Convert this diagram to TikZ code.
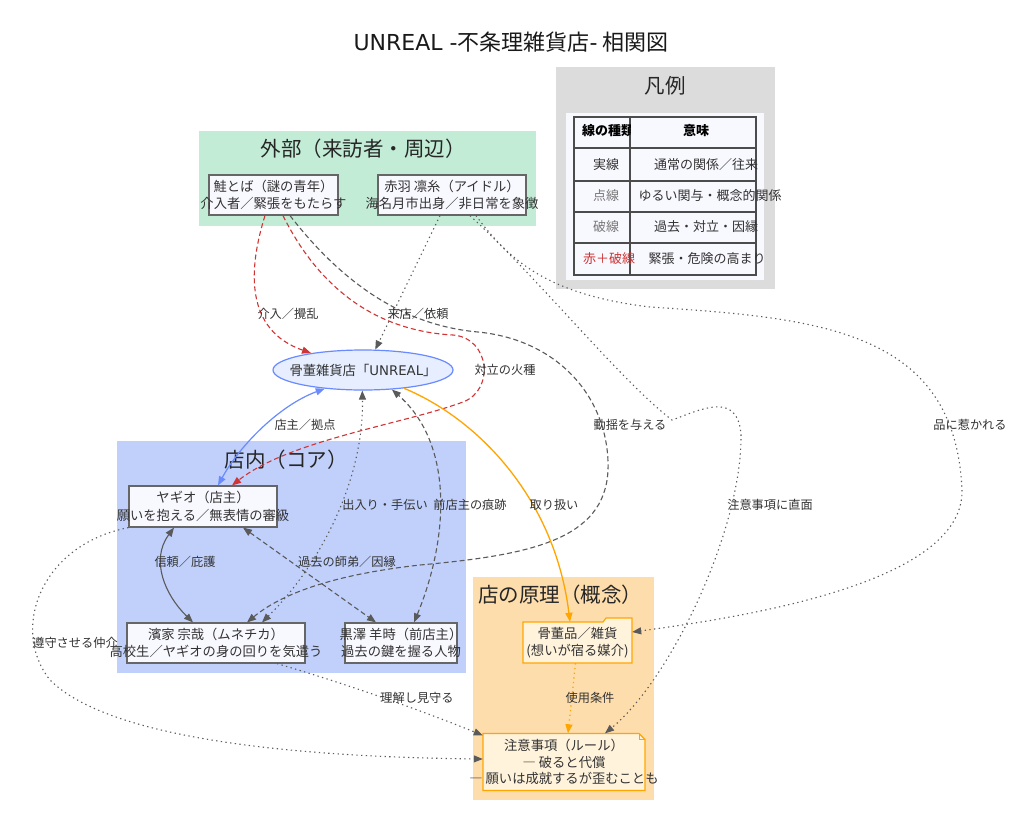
\documentclass[tikz,border=0pt]{standalone}
\usepackage{fontspec}
\setmainfont{Noto Sans CJK JP}
\newfontfamily\dejavu{DejaVu Sans}
\usetikzlibrary{arrows.meta,shapes.geometric}

\definecolor{edgegray}{HTML}{5A5A5A}
\definecolor{redline}{HTML}{D03434}
\definecolor{blueline}{HTML}{6A8AFF}
\definecolor{orangeline}{HTML}{FFA500}
\definecolor{extbg}{HTML}{C2ECD6}
\definecolor{corebg}{HTML}{C0D0FB}
\definecolor{conbg}{HTML}{FEDDAC}
\definecolor{legbg}{HTML}{DCDCDC}
\definecolor{legin}{HTML}{F8F8FF}
\definecolor{nodefill}{HTML}{F8F8FF}
\definecolor{nodeline}{HTML}{666666}
\definecolor{shopfill}{HTML}{E6EEFF}
\definecolor{docfill}{HTML}{FFF3DC}
\definecolor{legred}{HTML}{CC3333}
\definecolor{leggray}{HTML}{777777}
\definecolor{txt}{HTML}{333333}

\newcommand\zw[1]{\makebox[0pt][c]{#1}}

\begin{document}
\begin{tikzpicture}[x=1pt,y=-1pt,
  actor/.style={draw=nodeline, fill=nodefill, line width=1.2pt, minimum height=40pt,
    inner sep=0pt, align=center, text=txt, font=\fontsize{13.3}{17.5}\selectfont},
  grouptitle/.style={inner sep=0pt, text=black!85, font=\fontsize{20.5}{24}\selectfont},
  lab/.style={inner sep=0pt, text=txt, font=\fontsize{12.2}{14}\selectfont},
  legtext/.style={inner sep=0pt, text=txt, font=\fontsize{13}{15}\selectfont},
  tableline/.style={draw=black!70, line width=1.1pt},
  grayrel/.style={draw=edgegray, line width=1.1pt},
  redrel/.style={draw=redline, line width=1.1pt, dash pattern=on 5pt off 3pt},
  bluerel/.style={draw=blueline, line width=1.2pt},
  orangerel/.style={draw=orangeline, line width=1.3pt},
  dashedline/.style={dash pattern=on 5pt off 3pt},
  dottedline/.style={dash pattern=on 1.3pt off 3.4pt},
  arrowend/.style={-{Triangle[length=9pt,width=7pt]}},
  bothend/.style={{Triangle[length=9pt,width=7pt]}-{Triangle[length=9pt,width=7pt]}},
]
\useasboundingbox (0,0) rectangle (1024,833);
\fill[white] (0,0) rectangle (1024,833);

% title
\node[inner sep=0pt, text=black!90, font=\fontsize{22}{26}\selectfont] (title) at (511,42)
  {{\dejavu UNREAL -}不条理雑貨店{\dejavu -} 相関図};

% legend
\fill[legbg] (556,67) rectangle (775,289);
\node[grouptitle] (legtitle) at (665,86) {凡例};
\fill[legin] (566,113) rectangle (764,280);
\draw[tableline] (574,117) rectangle (756,275);
\foreach \yy in {148,181,212,243} \draw[tableline] (574,\yy) -- (756,\yy);
\draw[tableline] (630,117) -- (630,275);
\begin{scope}
  \clip (575,118) rectangle (630,147);
  \node[legtext, text=black, font=\fontsize{13}{15}\selectfont\bfseries] (lh1) at (608,131) {線の種類};
\end{scope}
\node[legtext, text=black, font=\fontsize{13}{15}\selectfont\bfseries] (lh2) at (696,131) {意味};
\node[legtext] (lr1a) at (606,165) {実線};
\node[legtext, text=leggray] (lr2a) at (606,196) {点線};
\node[legtext, text=leggray] (lr3a) at (606,227) {破線};
\node[legtext, text=legred] (lr4a) at (609,259) {赤＋破線};
\node[legtext] (lr1b) at (706,165) {通常の関係／往来};
\node[legtext] (lr2b) at (710,196) {ゆるい関与・概念的関係};
\node[legtext] (lr3b) at (706,227) {過去・対立・因縁};
\node[legtext] (lr4b) at (707,259) {緊張・危険の高まり};

% groups
\fill[extbg] (199,131) rectangle (536,226);
\fill[corebg] (117,441) rectangle (466,673);
\fill[conbg] (473,577) rectangle (654,800);
\node[grouptitle] (exttitle) at (363,149) {外部（来訪者・周辺）};
\node[grouptitle] (coretitle) at (286,460) {店内（コア）};
\node[grouptitle] (contitle) at (560,595) {店の原理（概念）};

% nodes
\node[actor, minimum width=129pt] (sake) at (273.5,195)
  {\zw{鮭とば（謎の青年）}\\\zw{介入者／緊張をもたらす}};
\node[actor, minimum width=148pt] (akabane) at (452,195)
  {\zw{赤羽 凛糸（アイドル）}\\\zw{海名月市出身／非日常を象徴}};
\node[actor, minimum width=148pt, minimum height=41pt] (yagio) at (203,506.5)
  {\zw{ヤギオ（店主）}\\\zw{願いを抱える／無表情の審級}};
\node[actor, minimum width=178pt] (hamaie) at (216,643)
  {\zw{濱家 宗哉（ムネチカ）}\\\zw{高校生／ヤギオの身の回りを気遣う}};
\node[actor, minimum width=112pt] (kuro) at (401,643)
  {\zw{黒澤 羊時（前店主）}\\\zw{過去の鍵を握る人物}};
\node[ellipse, draw=blueline, fill=shopfill, line width=1.2pt, minimum width=180pt,
  minimum height=40pt, inner sep=0pt, text=txt, font=\fontsize{13.3}{16}\selectfont] (shop) at (363,370)
  {\zw{骨董雑貨店「{\dejavu UNREAL}」}};

% folder and note outlines
\draw[draw=orangeline, fill=docfill, line width=1.2pt]
  (523,663) -- (523,622) -- (603,622) -- (606,618) -- (632,618) -- (632,663) -- cycle;
\node[inner sep=0pt, minimum width=109pt, minimum height=41pt, align=center, text=txt,
  font=\fontsize{13.3}{16.5}\selectfont] (kotto) at (577.5,642.5)
  {骨董品／雑貨\\(想いが宿る媒介)};
\draw[draw=orangeline, fill=docfill, line width=1.2pt]
  (483,733.5) -- (639,733.5) -- (645,739.5) -- (645,790.5) -- (483,790.5) -- cycle;
\draw[draw=orangeline, line width=1pt] (639,733.5) -- (639,739.5) -- (645,739.5);
\node[inner sep=0pt, minimum width=162pt, minimum height=57pt, align=center, text=txt,
  font=\fontsize{13.3}{16.8}\selectfont] (rule) at (564,762)
  {\zw{注意事項（ルール）}\\\zw{― 破ると代償}\\\zw{― 願いは成就するが歪むことも}};

% edges
\draw[redrel, arrowend] ([xshift=-8.5pt]sake.south) .. controls (248,270) and (245,330) .. (shop.162);
\draw[redrel, arrowend] ([xshift=9.5pt]sake.south) .. controls (310,270) and (360,330) .. (453,335)
  .. controls (490,338) and (495,390) .. (463,402)
  .. controls (400,425) and (290,440) .. ([xshift=29pt]yagio.north);
\draw[grayrel, dashedline, arrowend] ([xshift=16.5pt]sake.south) .. controls (340,280) and (400,325) .. (478,332)
  .. controls (560,340) and (610,400) .. (608,470)
  .. controls (605,540) and (530,555) .. (420,565)
  .. controls (330,575) and (280,595) .. ([xshift=31pt]hamaie.north);
\draw[grayrel, dottedline, arrowend] ([xshift=-12pt]akabane.south) -- (shop.59);
\draw[grayrel, dottedline, arrowend] ([xshift=24pt]akabane.south) .. controls (510,262) and (550,295) .. (650,307)
  .. controls (820,318) and (955,330) .. (962,490)
  .. controls (964,580) and (760,615) .. ([yshift=10.5pt]kotto.east);
\draw[grayrel, dottedline, arrowend] ([xshift=18pt]akabane.south) .. controls (540,280) and (620,380) .. (672,420)
  .. controls (700,410) and (738,390) .. (741,435)
  .. controls (742,530) and (670,680) .. ([xshift=41pt]rule.north);
\draw[bluerel, bothend] ([xshift=15pt]yagio.north) .. controls (240,445) and (280,405) .. (shop.206);
\draw[grayrel, dottedline, bothend] ([xshift=46pt]hamaie.north) .. controls (320,565) and (364,480) .. (shop.268);
\draw[grayrel, dashedline, bothend] ([xshift=13pt]kuro.north) .. controls (448,540) and (455,445) .. (shop.326);
\draw[orangerel, arrowend] (shop.336) .. controls (480,420) and (555,500) .. ([xshift=-7.5pt]kotto.north);
\draw[grayrel, bothend] ([xshift=-29pt]yagio.south) .. controls (150,560) and (165,595) .. ([xshift=-23pt]hamaie.north);
\draw[grayrel, dashedline, bothend] ([xshift=40pt]yagio.south) -- ([xshift=-25pt]kuro.north);
\draw[orangerel, dottedline, arrowend] ([xshift=-2pt]kotto.south) -- ([xshift=4pt]rule.north);
\draw[grayrel, dottedline, arrowend] ([xshift=61pt]hamaie.south) .. controls (350,685) and (420,710) .. ([yshift=-2pt]rule.north west);
\draw[grayrel, dottedline, arrowend] (yagio.south west) .. controls (40,545) and (10,630) .. (50,680)
  .. controls (110,740) and (300,757) .. ([yshift=3pt]rule.west);

% edge labels
\node[lab] (l1) at (288,314) {介入／攪乱};
\node[lab] (l2) at (418,314) {来店／依頼};
\node[lab] (l3) at (505,370) {対立の火種};
\node[lab] (l4) at (630,425) {動揺を与える};
\node[lab] (l5) at (970,425) {品に惹かれる};
\node[lab] (l6) at (305,425) {店主／拠点};
\node[lab] (l7) at (770,505) {注意事項に直面};
\node[lab] (l8) at (385,505) {出入り・手伝い};
\node[lab] (l9) at (470,505) {前店主の痕跡};
\node[lab] (l10) at (554,505) {取り扱い};
\node[lab] (l11) at (185,562) {信頼／庇護};
\node[lab] (l12) at (347,562) {過去の師弟／因縁};
\node[lab] (l13) at (75,643) {遵守させる仲介};
\node[lab] (l14) at (417,698) {理解し見守る};
\node[lab] (l15) at (590,698) {使用条件};
\end{tikzpicture}
\end{document}
